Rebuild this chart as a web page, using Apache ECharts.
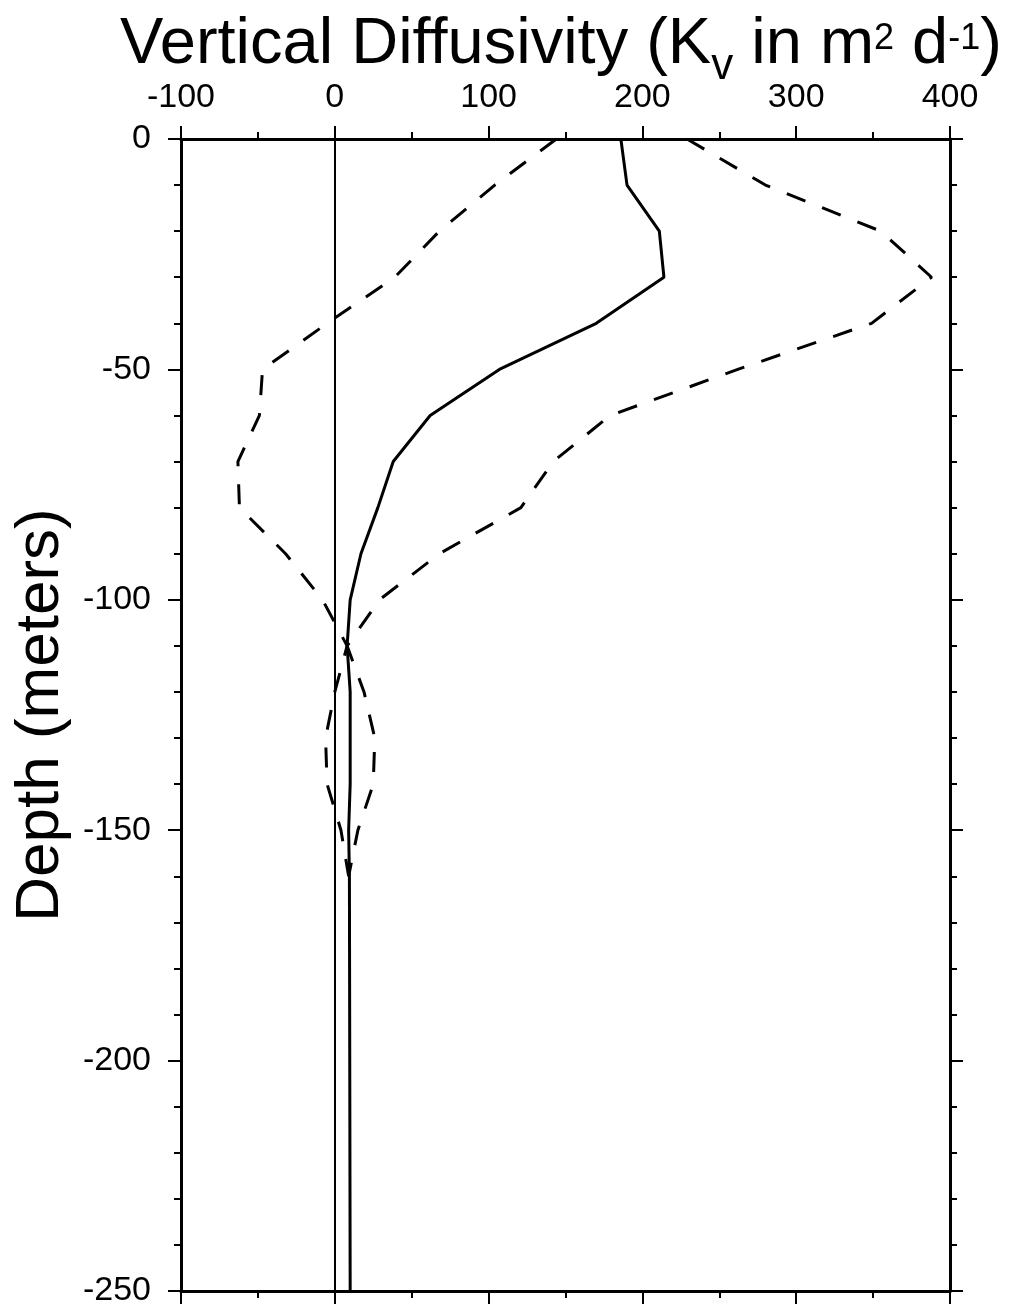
<!DOCTYPE html>
<html>
<head>
<meta charset="UTF-8">
<title>Vertical Diffusivity</title>
<script src="https://cdn.jsdelivr.net/npm/echarts@6/dist/echarts.min.js"></script>
</head>
<body style="margin:0;background:#fff;">
	<div id="main" style="width:1013px;height:1313px;"></div>
	<script type="text/javascript">
		// depth (m) and Kv profiles
		var depth = [0, -10, -20, -30, -40, -50, -60, -70, -80, -90, -100, -110, -120, -130, -140, -150, -160, -250];
		var kvMean = [186, 190, 211, 214, 170, 107, 62, 38, 28, 17, 10, 8, 10, 10, 10, 9, 9.5, 10];
		var kvLower = [144, 104, 68, 39, -5, -47, -49, -63, -62, -32, -8, 8, 0, -6, -5, 4, 9];
		var kvUpper = [229, 280, 355, 388, 349, 262, 179, 142, 121, 68, 29, 8, 19, 26, 25, 15, 9];
		var xTicks = [-100, 400, 100];
		var yTicks = [-250, 0, 50];

		var F = 'Liberation Sans';
		function pairs(vals) {
			return vals.map(function (v, i) { return [v, depth[i]]; });
		}
		var axLine = { show: true, onZero: false, lineStyle: { color: '#000', width: 3 } };
		function xAx(pos, showLabel) {
			return {
				type: 'value', position: pos, min: xTicks[0], max: xTicks[1], interval: xTicks[2],
				axisLine: axLine,
				axisTick: { show: true, inside: false, length: 13, lineStyle: { color: '#000', width: 2 } },
				minorTick: { show: true, splitNumber: 2, length: 7, lineStyle: { color: '#000', width: 2 } },
				axisLabel: { show: showLabel, fontSize: 34, fontFamily: F, color: '#000', margin: 24 },
				splitLine: { show: false }
			};
		}
		function yAx(pos, showLabel) {
			return {
				type: 'value', position: pos, min: yTicks[0], max: yTicks[1], interval: yTicks[2],
				name: showLabel ? 'Depth (meters)' : '',
				nameLocation: 'middle', nameRotate: 90, nameGap: 109,
				nameTextStyle: { fontSize: 62, fontFamily: F, color: '#000' },
				axisLine: axLine,
				axisTick: { show: true, inside: false, length: 13, lineStyle: { color: '#000', width: 2 } },
				minorTick: { show: true, splitNumber: 5, length: 7, lineStyle: { color: '#000', width: 2 } },
				axisLabel: { show: showLabel, fontSize: 34, fontFamily: F, color: '#000', margin: 30 },
				splitLine: { show: false }
			};
		}

		var myChart = echarts.init(document.getElementById('main'));
		var option = {
			animation: false,
			backgroundColor: '#fff',
			title: {
				text: '{t|Vertical Diffusivity (K}{sub|v}{t| in m}{sup|2}{t| d}{sup|-1}{t|)}',
				left: 120, top: 13, padding: 0,
				textStyle: {
					fontWeight: 'normal',
					rich: {
						t: { fontSize: 65, fontFamily: F, fontWeight: 'normal', color: '#000', lineHeight: 76, verticalAlign: 'top' },
						sub: { fontSize: 44, fontFamily: F, fontWeight: 'normal', color: '#000', lineHeight: 40, verticalAlign: 'bottom' },
						sup: { fontSize: 36, fontFamily: F, fontWeight: 'normal', color: '#000', lineHeight: 40, verticalAlign: 'top', padding: [8, 0, 0, 0] }
					}
				}
			},
			grid: { left: 181, right: 63, top: 139, bottom: 22, containLabel: false },
			xAxis: [xAx('top', true), xAx('bottom', false)],
			yAxis: [yAx('left', true), yAx('right', false)],
			series: [
				{
					type: 'line', data: pairs(kvMean), symbol: 'none',
					lineStyle: { color: '#000', width: 3 },
					markLine: {
						silent: true, symbol: 'none', label: { show: false },
						lineStyle: { color: '#000', width: 2, type: 'solid' },
						data: [{ xAxis: 0 }]
					}
				},
				{
					type: 'line', data: pairs(kvLower), symbol: 'none',
					lineStyle: { color: '#000', width: 3, type: [20, 18] }
				},
				{
					type: 'line', data: pairs(kvUpper), symbol: 'none',
					lineStyle: { color: '#000', width: 3, type: [20, 18] }
				}
			]
		};
		myChart.setOption(option);
	</script>
</body>
</html>
